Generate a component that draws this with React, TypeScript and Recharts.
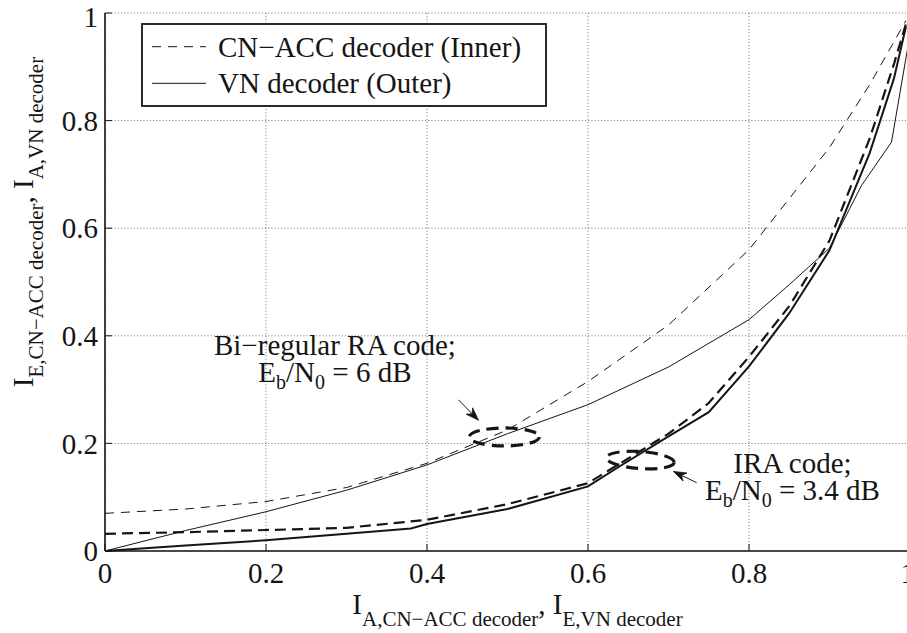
import { LineChart, Line, XAxis, YAxis, CartesianGrid, Legend, ReferenceDot, ReferenceLine, Label } from "recharts";

const serif = '"Liberation Serif", "Times New Roman", Times, serif';
const ink = "#151515";

const ticks = [0, 0.2, 0.4, 0.6, 0.8, 1];
const tickLabels = ["0", "0.2", "0.4", "0.6", "0.8", "1"];
const legendNames = ["CN−ACC decoder (Inner)", "VN decoder (Outer)"];

// Bi-regular RA code, Eb/N0 = 6 dB
const raInnerX = [0, 0.1, 0.2, 0.3, 0.4, 0.5, 0.6, 0.7, 0.8, 0.85, 0.9, 0.95, 0.995];
const raInnerY = [0.07, 0.078, 0.092, 0.118, 0.163, 0.225, 0.315, 0.42, 0.56, 0.655, 0.75, 0.867, 0.986];
const raOuterX = [0, 0.1, 0.2, 0.3, 0.4, 0.5, 0.6, 0.7, 0.8, 0.85, 0.9, 0.94, 0.977, 1];
const raOuterY = [0, 0.038, 0.073, 0.113, 0.16, 0.218, 0.272, 0.342, 0.43, 0.495, 0.563, 0.68, 0.76, 0.96];

// IRA code, Eb/N0 = 3.4 dB
const iraInnerX = [0, 0.1, 0.2, 0.3, 0.4, 0.5, 0.6, 0.65, 0.7, 0.75, 0.8, 0.85, 0.9, 0.95, 0.98, 0.995];
const iraInnerY = [0.032, 0.035, 0.039, 0.043, 0.058, 0.087, 0.126, 0.172, 0.218, 0.275, 0.361, 0.455, 0.577, 0.767, 0.905, 0.98];
const iraOuterX = [0, 0.1, 0.2, 0.3, 0.38, 0.4, 0.5, 0.6, 0.64, 0.7, 0.75, 0.8, 0.85, 0.9, 0.95, 0.98, 0.995];
const iraOuterY = [0, 0.01, 0.02, 0.032, 0.042, 0.05, 0.078, 0.12, 0.158, 0.213, 0.258, 0.343, 0.442, 0.559, 0.74, 0.878, 0.975];

const zip = (xs: number[], ys: number[]) => xs.map((x, i) => ({ x, y: ys[i] }));

const raInner = zip(raInnerX, raInnerY);
const raOuter = zip(raOuterX, raOuterY);
const iraInner = zip(iraInnerX, iraInnerY);
const iraOuter = zip(iraOuterX, iraOuterY);

// annotation anchors (data coordinates)
const raRing = { x: 0.496, y: 0.212 };
const iraRing = { x: 0.665, y: 0.169 };
const raArrow = [{ x: 0.439, y: 0.281 }, { x: 0.464, y: 0.243 }];
const iraArrow = [{ x: 0.735, y: 0.127 }, { x: 0.706, y: 0.148 }];
const raNote = { x: 0.2856, y: 0.364 };
const iraNote = { x: 0.854, y: 0.145 };

const ring = (rx: number, ry: number, tilt: number) => (props: any) => {
  const { cx, cy } = props;
  return (
    <ellipse
      cx={cx}
      cy={cy}
      rx={rx}
      ry={ry}
      fill="none"
      stroke={ink}
      strokeWidth={3.2}
      strokeDasharray="12 7"
      transform={`rotate(${tilt}, ${cx}, ${cy})`}
    />
  );
};

const arrow = (props: any) => {
  const { x1, y1, x2, y2 } = props;
  const a = Math.atan2(y2 - y1, x2 - x1);
  const c = Math.cos(a);
  const s = Math.sin(a);
  const len = 13;
  const half = 4.5;
  const bx = x2 - len * c;
  const by = y2 - len * s;
  const nx = x2 - (len - 4) * c;
  const ny = y2 - (len - 4) * s;
  const head = `M${x2},${y2} L${bx - half * s},${by + half * c} L${nx},${ny} L${bx + half * s},${by - half * c} Z`;
  return (
    <g>
      <line x1={x1} y1={y1} x2={nx} y2={ny} stroke={ink} strokeWidth={1} />
      <path d={head} fill={ink} stroke={ink} strokeWidth={0.8} />
    </g>
  );
};

const note = (title: string, value: string) => (props: any) => {
  const { cx, cy } = props;
  return (
    <g fontFamily={serif} fill={ink}>
      <text x={cx} y={cy} textAnchor="middle" fontSize={29}>
        {title}
      </text>
      <text x={cx} y={cy + 27} textAnchor="middle" fontSize={29}>
        E
        <tspan dy={7} fontSize={20}>b</tspan>
        <tspan dy={-7}>/N</tspan>
        <tspan dy={7} fontSize={20}>0</tspan>
        <tspan dy={-7}>{` = ${value}`}</tspan>
      </text>
    </g>
  );
};

const xLabel = (props: any) => {
  const { viewBox } = props;
  const cx = viewBox.x + viewBox.width / 2 + 10;
  const y = viewBox.y + 63;
  return (
    <text x={cx} y={y} textAnchor="middle" fontFamily={serif} fontSize={29} fill={ink}>
      I
      <tspan dy={12} fontSize={21}>A,CN−ACC decoder</tspan>
      <tspan dy={-12}>, I</tspan>
      <tspan dy={12} fontSize={21}>E,VN decoder</tspan>
    </text>
  );
};

const yLabel = () => {
  const x = 33;
  const y = 222;
  return (
    <text
      x={x}
      y={y}
      textAnchor="middle"
      fontFamily={serif}
      fontSize={29}
      fill={ink}
      transform={`rotate(-90, ${x}, ${y})`}
    >
      I
      <tspan dy={10} fontSize={21}>E,CN−ACC decoder</tspan>
      <tspan dy={-10}>, I</tspan>
      <tspan dy={10} fontSize={21}>A,VN decoder</tspan>
    </text>
  );
};

const renderLegend = (props: any) => {
  const payload = (props.payload ?? []).filter((e: any) => legendNames.includes(e.value));
  payload.sort((a: any, b: any) => legendNames.indexOf(a.value) - legendNames.indexOf(b.value));
  return (
    <svg width={406} height={84} style={{ display: "block" }}>
      <rect x={1} y={1} width={404} height={82} fill="#fff" stroke={ink} strokeWidth={1.8} />
      {payload.map((entry: any, i: number) => {
        const rowY = 23.7 + i * 36.6;
        return (
          <g key={entry.value}>
            <line
              x1={11}
              x2={65}
              y1={rowY}
              y2={rowY}
              stroke={ink}
              strokeWidth={1}
              strokeDasharray={entry.payload?.strokeDasharray}
            />
            <text x={77} y={rowY + 10} fontFamily={serif} fontSize={29} fill={ink}>
              {entry.value}
            </text>
          </g>
        );
      })}
    </svg>
  );
};

const tickStyle = { fontSize: 29, fill: ink, fontFamily: serif };

export default function App() {
  return (
    <div style={{ position: "absolute", left: 0, top: 0, width: 907, height: 633, overflow: "hidden", background: "#fff" }}>
      <LineChart width={915} height={633} margin={{ top: 13, right: 5, bottom: 0, left: 0 }} style={{ fontFamily: serif }}>
        <CartesianGrid stroke="#6f6f6f" strokeDasharray="1 2.2" strokeWidth={1} />
        <XAxis
          dataKey="x"
          type="number"
          domain={[0, 1]}
          ticks={ticks}
          tickFormatter={(v: number) => tickLabels[ticks.indexOf(v)] ?? String(v)}
          height={82}
          tick={tickStyle}
          tickSize={-7}
          tickMargin={18}
          tickLine={{ stroke: ink, strokeWidth: 1 }}
          axisLine={{ stroke: ink, strokeWidth: 1.6 }}
        >
          <Label content={xLabel} />
        </XAxis>
        <XAxis
          xAxisId="top"
          orientation="top"
          type="number"
          domain={[0, 1]}
          ticks={ticks}
          height={0}
          tick={false}
          tickSize={-7}
          tickLine={{ stroke: ink, strokeWidth: 1 }}
          axisLine={{ stroke: ink, strokeWidth: 1.6 }}
        />
        <YAxis
          type="number"
          domain={[0, 1]}
          ticks={ticks}
          tickFormatter={(v: number) => tickLabels[ticks.indexOf(v)] ?? String(v)}
          width={105}
          tick={tickStyle}
          tickSize={-7}
          tickMargin={14}
          tickLine={{ stroke: ink, strokeWidth: 1 }}
          axisLine={{ stroke: ink, strokeWidth: 1.6 }}
        >
          <Label content={yLabel} />
        </YAxis>
        <YAxis
          yAxisId="right"
          orientation="right"
          type="number"
          domain={[0, 1]}
          ticks={ticks}
          width={0}
          tick={false}
          tickSize={-7}
          tickLine={{ stroke: ink, strokeWidth: 1 }}
          axisLine={{ stroke: ink, strokeWidth: 1.6 }}
        />

        <Line
          data={raInner}
          dataKey="y"
          name="CN−ACC decoder (Inner)"
          type="linear"
          stroke={ink}
          strokeWidth={1}
          strokeDasharray="9 7"
          dot={false}
          isAnimationActive={false}
        />
        <Line
          data={raOuter}
          dataKey="y"
          name="VN decoder (Outer)"
          type="linear"
          stroke={ink}
          strokeWidth={1}
          dot={false}
          isAnimationActive={false}
        />
        <Line
          data={iraInner}
          dataKey="y"
          name="IRA inner"
          legendType="none"
          type="linear"
          stroke={ink}
          strokeWidth={2.2}
          strokeDasharray="11 6"
          dot={false}
          isAnimationActive={false}
        />
        <Line
          data={iraOuter}
          dataKey="y"
          name="IRA outer"
          legendType="none"
          type="linear"
          stroke={ink}
          strokeWidth={2}
          dot={false}
          isAnimationActive={false}
        />

        <ReferenceDot x={raRing.x} y={raRing.y} shape={ring(35, 9, 0)} />
        <ReferenceDot x={iraRing.x} y={iraRing.y} shape={ring(34, 8.5, 4)} />
        <ReferenceLine segment={raArrow} shape={arrow} />
        <ReferenceLine segment={iraArrow} shape={arrow} />
        <ReferenceDot x={raNote.x} y={raNote.y} shape={note("Bi−regular RA code;", "6 dB")} />
        <ReferenceDot x={iraNote.x} y={iraNote.y} shape={note("IRA code;", "3.4 dB")} />

        <Legend
          content={renderLegend}
          layout="vertical"
          align="center"
          verticalAlign="middle"
          wrapperStyle={{ left: 141, top: 23, width: 406, height: 84 }}
        />
      </LineChart>
    </div>
  );
}
